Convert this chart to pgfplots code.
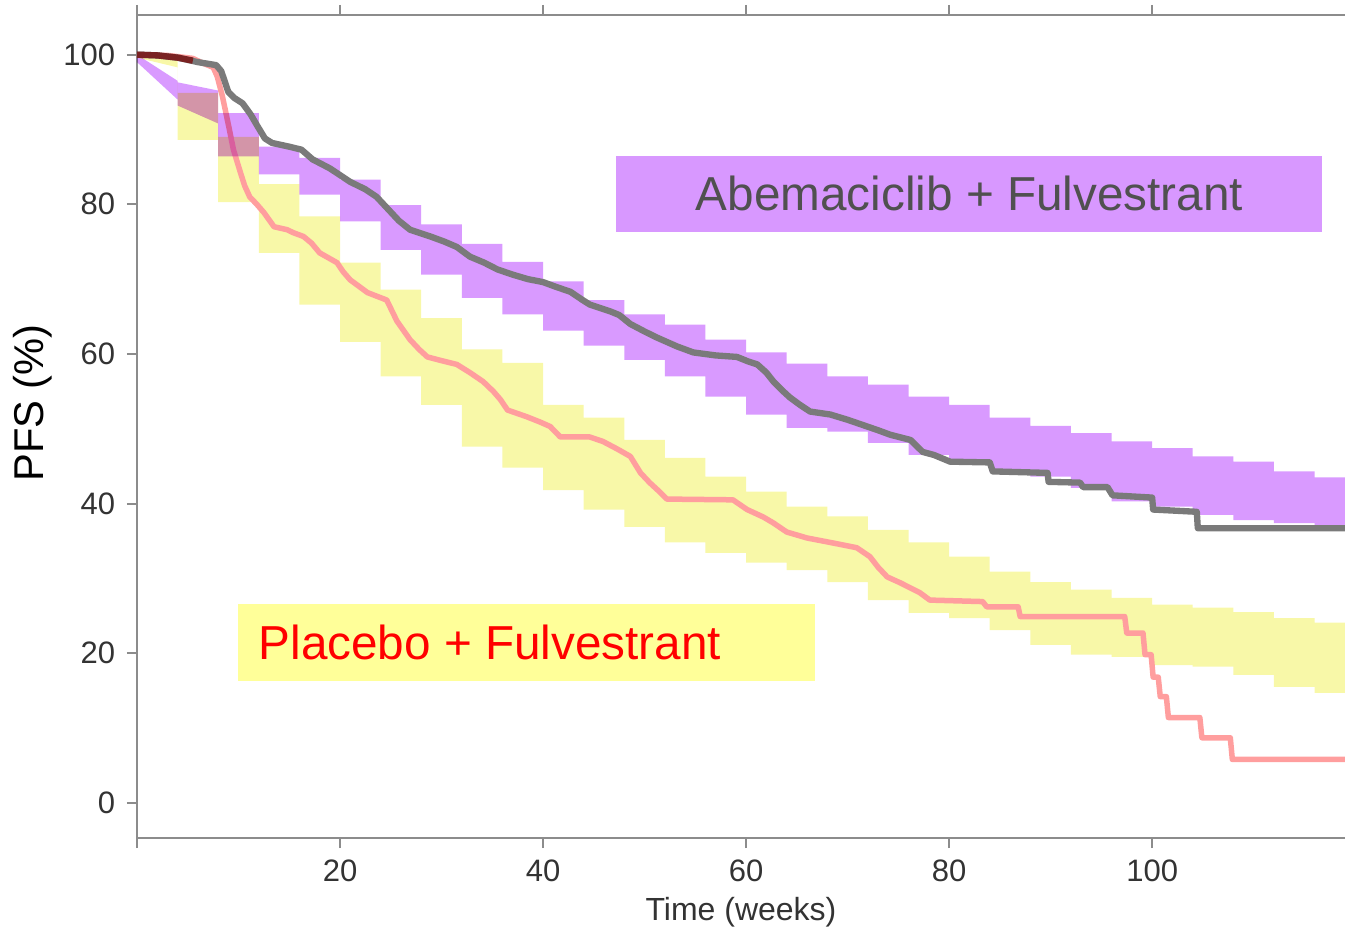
\documentclass[border=0pt]{standalone}
\usepackage{fontspec}
\setmainfont{Liberation Sans}
\usepackage{pgfplots}
\pgfplotsset{compat=1.18}
\definecolor{bandP}{HTML}{D99AFF}
\definecolor{bandY}{HTML}{F8F8A8}
\definecolor{boxP}{HTML}{D898FF}
\definecolor{boxY}{HTML}{FFFF99}
\definecolor{lineG}{HTML}{7A7A7A}
\definecolor{lineR}{HTML}{FF9E9E}
\definecolor{darkR}{HTML}{7A2222}
\definecolor{axG}{HTML}{8C8C8C}
\definecolor{tickT}{HTML}{333333}
\begin{document}
\begin{tikzpicture}
\begin{axis}[
  scale only axis, width=362.4pt, height=246.9pt,
  xmin=0, xmax=119, ymin=-4.7, ymax=105.3,
  axis x line*=box, axis y line*=left,
  axis line style={draw=axG, line width=0.7pt},
  tick align=outside, major tick length=3pt,
  every tick/.style={draw=axG, line width=0.6pt},
  xtick={0,20,40,60,80,100}, xticklabels={,20,40,60,80,100},
  ytick={0,20,40,60,80,100},
  /pgf/number format/assume math mode=true,
  tick label style={font=\fontsize{9.3}{11}\selectfont, text=tickT},
  xlabel={Time (weeks)}, ylabel={PFS (\%)},
  xlabel style={font=\fontsize{9.6}{11}\selectfont, text=tickT, at={(axis description cs:0.5,-0.0900)}, anchor=center},
  ylabel style={font=\fontsize{12.5}{14}\selectfont, text=black, at={(axis description cs:-0.0861,0.5286)}, anchor=center},
  clip=true,
]
% Placebo band
\addplot[fill=bandY, draw=none] coordinates {
(0,100) (4,99.6) (4,94.9) (8,94.9) (8,89.0) (12,89.0) (12,82.7) (16,82.7) (16,78.4) (20,78.4) (20,72.2) (24,72.2) (24,68.6) (28,68.6) (28,64.8) (32,64.8) (32,60.6) (36,60.6) (36,58.8) (40,58.8) (40,53.2) (44,53.2) (44,51.5) (48,51.5) (48,48.5) (52,48.5) (52,46.1) (56,46.1) (56,43.6) (60,43.6) (60,41.6) (64,41.6) (64,39.6) (68,39.6) (68,38.3) (72,38.3) (72,36.5) (76,36.5) (76,34.8) (80,34.8) (80,32.9) (84,32.9) (84,30.9) (88,30.9) (88,29.5) (92,29.5) (92,28.5) (96,28.5) (96,27.4) (100,27.4) (100,26.5) (104,26.5) (104,26.1) (108,26.1) (108,25.5) (112,25.5) (112,24.7) (116,24.7) (116,24.1) (120,24.1)
(120,14.7) (116,14.7) (116,15.5) (112,15.5) (112,17.1) (108,17.1) (108,18.2) (104,18.2) (104,18.4) (100,18.4) (100,19.5) (96,19.5) (96,19.8) (92,19.8) (92,21.1) (88,21.1) (88,23.1) (84,23.1) (84,24.7) (80,24.7) (80,25.4) (76,25.4) (76,27.1) (72,27.1) (72,29.5) (68,29.5) (68,31.1) (64,31.1) (64,32.1) (60,32.1) (60,33.4) (56,33.4) (56,34.8) (52,34.8) (52,36.9) (48,36.9) (48,39.2) (44,39.2) (44,41.8) (40,41.8) (40,44.8) (36,44.8) (36,47.6) (32,47.6) (32,53.2) (28,53.2) (28,57.0) (24,57.0) (24,61.6) (20,61.6) (20,66.6) (16,66.6) (16,73.5) (12,73.5) (12,80.3) (8,80.3) (8,88.6) (4,88.6) (4,98.3) (0,99.6)
};
% Placebo KM curve
\addplot[draw=lineR, line width=1.65pt, line join=round] coordinates {
(0,100) (3,99.9) (5.5,99.5) (6.6,98.8) (7.5,98.3) (7.9,97.1) (8.4,94.5) (8.7,92.6) (9.1,90) (9.5,87.3) (10.2,84.2) (10.6,82.5) (11.1,81.0) (11.8,80.0) (12.5,78.9) (13.5,77.0) (14.8,76.6) (15.4,76.2) (16.4,75.7) (17.2,74.8) (18.0,73.5) (19.7,72.2) (20.3,71) (21.0,69.9) (22.7,68.2) (24.6,67.2) (25.6,64.4) (26.9,61.9) (27.8,60.6) (28.6,59.6) (30,59.1) (31.5,58.6) (32.8,57.5) (34.1,56.3) (35.1,55) (35.8,53.9) (36.5,52.5) (38.4,51.6) (39.7,50.9) (40.7,50.3) (41.7,48.9) (44.6,48.9) (45.9,48.3) (47.3,47.3) (48.6,46.3) (49.6,44.1) (50.5,42.8) (51.3,41.8) (52.2,40.6) (58.7,40.5) (60.1,39.2) (61.7,38.2) (62.7,37.4) (64.0,36.2) (66.0,35.4) (68.3,34.8) (70.9,34.1) (72.2,32.9) (73.0,31.5) (73.9,30.2) (75.2,29.4) (77.1,28.1) (78.1,27.1) (83.3,26.9) (83.7,26.2) (86.8,26.2) (87.0,24.9) (97.3,24.9) (97.5,22.7) (99.1,22.7) (99.3,19.8) (99.9,19.8) (100.1,16.8) (100.6,16.8) (100.8,14.2) (101.4,14.2) (101.6,11.4) (104.7,11.4) (104.9,8.7) (107.7,8.7) (107.9,5.8) (120,5.8)
};
% Abemaciclib band
\addplot[fill=bandP, draw=none, blend mode=multiply] coordinates {
(0,100) (4,96.5) (4,96.3) (8,95.2) (8,92.2) (12,92.2) (12,87.7) (16,87.7) (16,86.2) (20,86.2) (20,83.3) (24,83.3) (24,79.9) (28,79.9) (28,77.3) (32,77.3) (32,74.7) (36,74.7) (36,72.3) (40,72.3) (40,69.7) (44,69.7) (44,67.2) (48,67.2) (48,65.3) (52,65.3) (52,63.9) (56,63.9) (56,61.9) (60,61.9) (60,60.2) (64,60.2) (64,58.7) (68,58.7) (68,57.0) (72,57.0) (72,55.9) (76,55.9) (76,54.3) (80,54.3) (80,53.2) (84,53.2) (84,51.5) (88,51.5) (88,50.4) (92,50.4) (92,49.4) (96,49.4) (96,48.3) (100,48.3) (100,47.4) (104,47.4) (104,46.3) (108,46.3) (108,45.6) (112,45.6) (112,44.3) (116,44.3) (116,43.5) (120,43.5)
(120,37.0) (116,37.0) (116,37.4) (112,37.4) (112,37.8) (108,37.8) (108,38.5) (104,38.5) (104,39.6) (100,39.6) (100,40.3) (96,40.3) (96,42.1) (92,42.1) (92,43.6) (88,43.6) (88,44.2) (84,44.2) (84,45.4) (80,45.4) (80,46.5) (76,46.5) (76,48.1) (72,48.1) (72,49.6) (68,49.6) (68,50.1) (64,50.1) (64,51.9) (60,51.9) (60,54.3) (56,54.3) (56,57.0) (52,57.0) (52,59.2) (48,59.2) (48,61.1) (44,61.1) (44,63.1) (40,63.1) (40,65.3) (36,65.3) (36,67.5) (32,67.5) (32,70.6) (28,70.6) (28,73.9) (24,73.9) (24,77.7) (20,77.7) (20,81.3) (16,81.3) (16,84.0) (12,84.0) (12,86.4) (8,86.4) (8,90.8) (4,93.2) (4,94.0) (0,99.0)
};
% Abemaciclib KM curve
\addplot[draw=lineG, line width=1.9pt, line join=round] coordinates {
(0,100) (2,99.9) (4,99.6) (6,99.0) (7.8,98.6) (8.3,97.8) (9.0,95.0) (9.6,94.2) (10.4,93.5) (11.2,92.0) (11.8,90.6) (12.6,88.8) (13.3,88.2) (15.0,87.7) (16.2,87.3) (17.3,86.0) (19.0,84.8) (21.0,83.0) (22.5,82.0) (23.6,81.0) (24.7,79.4) (25.8,77.8) (26.9,76.6) (28.9,75.7) (30.3,75.0) (31.5,74.3) (32.8,73.0) (34.2,72.2) (35.5,71.3) (37,70.6) (38.5,70.0) (40.0,69.6) (41.2,69.0) (42.7,68.3) (43.9,67.2) (44.6,66.6) (46.6,65.7) (47.5,65.2) (48.6,64.0) (50.0,63.0) (51.2,62.2) (53.2,61.0) (54.8,60.2) (57,59.8) (59.1,59.6) (60.2,59.0) (61.1,58.6) (62.0,57.5) (62.7,56.3) (63.5,55.2) (64.3,54.2) (65.3,53.2) (66.3,52.3) (68.3,51.9) (70,51.2) (71.5,50.5) (73,49.8) (74.2,49.2) (76.2,48.5) (77.4,46.9) (78.5,46.5) (80.1,45.6) (84.0,45.5) (84.3,44.3) (89.7,44.1) (89.8,42.9) (92.9,42.8) (93.2,42.2) (95.6,42.2) (96.1,41.1) (100.0,40.8) (100.1,39.2) (104.4,38.9) (104.5,36.7) (120,36.7)
};
% overlap of both curves at start
\addplot[draw=darkR, line width=1.9pt, line join=round] coordinates {
(0,100) (2,99.9) (4,99.6) (5.5,99.2)
};
% labels
\fill[boxP] (axis cs:47.2,86.5) rectangle (axis cs:116.7,76.3);
\node[anchor=center, inner sep=0pt, text={rgb,255:red,80;green,80;blue,80}, font=\fontsize{14.3}{16}\selectfont] at (axis cs:82.0,81.4) {Abemaciclib + Fulvestrant};
\fill[boxY] (axis cs:9.95,26.6) rectangle (axis cs:66.8,16.3);
\node[anchor=west, inner sep=0pt, text=red, font=\fontsize{14.3}{16}\selectfont] at (axis cs:11.92,21.5) {Placebo + Fulvestrant};
\end{axis}
\path (current axis.south west) ++(-41.1pt,-27.3pt) coordinate (bbA);
\path (current axis.north east) ++(0pt,4.5pt) coordinate (bbB);
\pgfresetboundingbox
\path (bbA) rectangle (bbB);
\end{tikzpicture}
\end{document}
